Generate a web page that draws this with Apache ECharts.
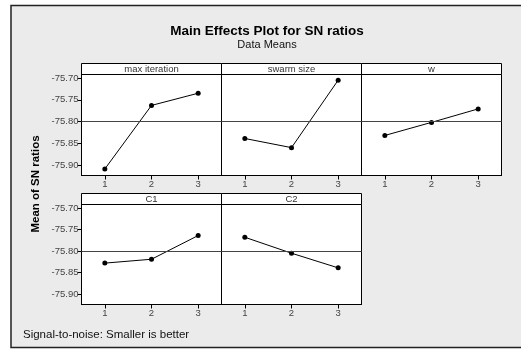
<!DOCTYPE html>
<html>
<head>
<meta charset="utf-8">
<script src="https://cdn.jsdelivr.net/npm/echarts@6/dist/echarts.min.js"></script>
<style>html,body{margin:0;padding:0;background:#fff;}#c{width:521px;height:349px;}</style>
</head>
<body>
<div id="c"></div>
<script>
const categories = ['1', '2', '3'];
const factorNames = ['max iteration', 'swarm size', 'w', 'C1', 'C2'];
const maxIteration = [-75.909, -75.763, -75.735];
const swarmSize = [-75.839, -75.860, -75.705];
const wValues = [-75.832, -75.802, -75.771];
const c1Values = [-75.828, -75.819, -75.764];
const c2Values = [-75.768, -75.805, -75.839];
const yTicks = [-75.90, -75.85, -75.80, -75.75, -75.70];

const seriesValues = [maxIteration, swarmSize, wValues, c1Values, c2Values];
const allVals = seriesValues.flat();
const grandMean = allVals.reduce((a, b) => a + b, 0) / allVals.length;

const FONT = 'Liberation Sans';
const yMin = -75.924, yMax = -75.692;
const panels = [
  { left: 81.5, top: 74.5, width: 140, height: 101, showY: true },
  { left: 221.5, top: 74.5, width: 140, height: 101, showY: false },
  { left: 361.5, top: 74.5, width: 140, height: 101, showY: false },
  { left: 81.5, top: 204.5, width: 140, height: 100, showY: true },
  { left: 221.5, top: 204.5, width: 140, height: 100, showY: false }
];
const headerH = 11;

const grid = [], xAxis = [], yAxis = [], series = [], graphic = [];

graphic.push({
  type: 'rect', shape: { x: 11, y: 5.5, width: 530, height: 342 },
  style: { fill: '#ebebeb', stroke: '#222', lineWidth: 1.5 }, z: -10
});
graphic.push({
  type: 'text', x: 267, y: 31,
  style: { text: 'Main Effects Plot for SN ratios', fontFamily: FONT, fontWeight: 'bold', fontSize: 13.5, fill: '#000', align: 'center', verticalAlign: 'middle' }
});
graphic.push({
  type: 'text', x: 267, y: 45,
  style: { text: 'Data Means', fontFamily: FONT, fontSize: 11, fill: '#111', align: 'center', verticalAlign: 'middle' }
});
graphic.push({
  type: 'text', x: 36, y: 184, rotation: Math.PI / 2,
  style: { text: 'Mean of SN ratios', fontFamily: FONT, fontWeight: 'bold', fontSize: 11.5, fill: '#000', align: 'center', verticalAlign: 'middle' }
});
graphic.push({
  type: 'text', x: 23, y: 335,
  style: { text: 'Signal-to-noise: Smaller is better', fontFamily: FONT, fontSize: 11.5, fill: '#111', align: 'left', verticalAlign: 'middle' }
});

panels.forEach((p, i) => {
  grid.push({ left: p.left, top: p.top, width: p.width, height: p.height, show: true, backgroundColor: '#fff', borderColor: '#000', borderWidth: 1 });
  graphic.push({
    type: 'rect', shape: { x: p.left, y: p.top - headerH, width: p.width, height: headerH },
    style: { fill: '#fff', stroke: '#000', lineWidth: 1 }
  });
  graphic.push({
    type: 'text', x: p.left + p.width / 2, y: p.top - headerH / 2,
    style: { text: factorNames[i], fontFamily: FONT, fontSize: 9.5, fill: '#333', align: 'center', verticalAlign: 'middle' }
  });
  xAxis.push({
    type: 'category', gridIndex: i, data: categories, boundaryGap: true,
    axisLine: { show: true, lineStyle: { color: '#000', width: 1 } },
    axisTick: { show: true, alignWithLabel: true, length: 4, lineStyle: { color: '#000' } },
    axisLabel: { show: true, fontFamily: FONT, fontSize: 9.5, color: '#444', margin: 4 },
    splitLine: { show: false }
  });
  yAxis.push({
    type: 'value', gridIndex: i, min: yMin, max: yMax,
    axisLine: { show: true, lineStyle: { color: '#000', width: 1 } },
    axisTick: { show: p.showY, length: 4, customValues: yTicks, lineStyle: { color: '#000' } },
    axisLabel: { show: p.showY, customValues: yTicks, fontFamily: FONT, fontSize: 9.5, color: '#444', margin: 3, formatter: v => v.toFixed(2) },
    splitLine: { show: false }
  });
  series.push({
    type: 'line', xAxisIndex: i, yAxisIndex: i, data: seriesValues[i],
    symbol: 'circle', symbolSize: 5, showSymbol: true,
    lineStyle: { color: '#000', width: 1 }, itemStyle: { color: '#000' },
    animation: false,
    markLine: {
      silent: true, symbol: 'none', label: { show: false },
      lineStyle: { color: '#444', width: 1, type: 'solid' },
      data: [{ yAxis: grandMean }], animation: false
    }
  });
});

const chart = echarts.init(document.getElementById('c'), null, { renderer: 'canvas' });
chart.setOption({ backgroundColor: '#fff', animation: false, grid, xAxis, yAxis, series, graphic });
</script>
</body>
</html>
